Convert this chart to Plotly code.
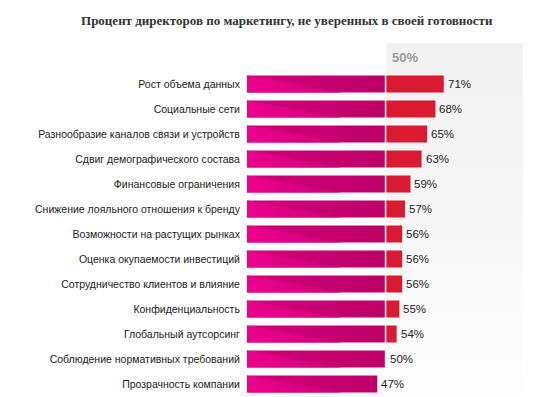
import plotly.graph_objects as go

title = "Процент директоров по маркетингу, не уверенных в своей готовности"
categories = [
    "Рост объема данных",
    "Социальные сети",
    "Разнообразие каналов связи и устройств",
    "Сдвиг демографического состава",
    "Финансовые ограничения",
    "Снижение лояльного отношения к бренду",
    "Возможности на растущих рынках",
    "Оценка окупаемости инвестиций",
    "Сотрудничество клиентов и влияние",
    "Конфиденциальность",
    "Глобальный аутсорсинг",
    "Соблюдение нормативных требований",
    "Прозрачность компании",
]
values = [71, 68, 65, 63, 59, 57, 56, 56, 56, 55, 54, 50, 47]
threshold = 50
threshold_label = "50%"

BAR_H = 0.34          # half bar height in row units
TRI_END = 34          # where the diagonal highlight reaches the bar bottom
X_MAX = 99.6
Y_TOP, Y_BOT = -1.64, 12.52

idx = list(range(len(categories)))

fig = go.Figure()

# light panel right of the threshold
fig.add_trace(go.Scatter(
    x=[threshold, X_MAX, X_MAX, threshold, threshold],
    y=[Y_TOP, Y_TOP, Y_BOT, Y_BOT, Y_TOP],
    mode="lines", line=dict(width=0), fill="toself",
    fillgradient=dict(type="vertical", start=Y_TOP, stop=Y_BOT,
                      colorscale=[[0, "#f2f2f2"], [0.6, "#f8f8f8"], [1, "#fefefe"]]),
    hoverinfo="skip", showlegend=False,
))

# magenta part of each bar (up to threshold), red part above it
rx, ry, tx, ty, qx, qy = [], [], [], [], [], []
for i, v in zip(idx, values):
    m = min(v, threshold)
    rx += [0, m, m, 0, 0, None]
    ry += [i - BAR_H, i - BAR_H, i + BAR_H, i + BAR_H, i - BAR_H, None]
    tx += [0, 0, TRI_END, 0, None]
    ty += [i - BAR_H, i + BAR_H, i + BAR_H, i - BAR_H, None]
    if v > threshold:
        qx += [threshold, v, v, threshold, threshold, None]
        qy += [i - BAR_H, i - BAR_H, i + BAR_H, i + BAR_H, i - BAR_H, None]

fig.add_trace(go.Scatter(
    x=rx, y=ry, mode="lines", line=dict(width=0), fill="toself",
    fillgradient=dict(type="horizontal", start=0, stop=threshold,
                      colorscale=[[0, "#d2007b"], [1, "#bc0067"]]),
    hoverinfo="skip", showlegend=False,
))
fig.add_trace(go.Scatter(
    x=tx, y=ty, mode="lines", line=dict(width=0), fill="toself",
    fillgradient=dict(type="horizontal", start=0, stop=TRI_END,
                      colorscale=[[0, "#ec008c"], [1, "#d0007a"]]),
    hoverinfo="skip", showlegend=False,
))
fig.add_trace(go.Scatter(
    x=qx, y=qy, mode="lines", line=dict(width=0), fill="toself",
    fillcolor="#da1a30",
    hoverinfo="skip", showlegend=False,
))

# value labels
for i, v in zip(idx, values):
    fig.add_annotation(x=v, y=i, xref="x", yref="y", text=f"{v}%", showarrow=False,
                       xanchor="left", yanchor="middle", xshift=2,
                       font=dict(family="Liberation Sans, Arial", size=11.5, color="#222222"))

fig.add_shape(type="line", x0=threshold, x1=threshold, y0=Y_TOP, y1=Y_BOT,
              xref="x", yref="y", line=dict(color="white", width=1.5), layer="above")

fig.add_annotation(x=threshold, y=-1.05, xref="x", yref="y", text=f"<b>{threshold_label}</b>",
                   showarrow=False, xanchor="left", xshift=4,
                   font=dict(family="Liberation Sans, Arial", size=13, color="#9a9a9a"))

fig.update_layout(
    width=538, height=397,
    margin=dict(l=247, r=15, t=43, b=0, pad=0),
    paper_bgcolor="white", plot_bgcolor="white",
    title=dict(text=title, x=0.533, xanchor="center", xref="container",
               y=1 - 20 / 397, yanchor="middle",
               font=dict(family="Liberation Serif, DejaVu Serif, serif", size=13,
                         color="#333333", weight="bold")),
    xaxis=dict(range=[0, X_MAX], showgrid=False, zeroline=False, showticklabels=False,
               showline=False, fixedrange=True),
    yaxis=dict(range=[Y_BOT, Y_TOP], tickmode="array", tickvals=idx, ticktext=categories,
               showgrid=False, zeroline=False, showline=False, fixedrange=True,
               ticks="outside", ticklen=4, tickcolor="rgba(0,0,0,0)",
               tickfont=dict(family="Liberation Sans, Arial", size=10.5, color="#222222")),
)

fig.write_html("out.html", config={"displayModeBar": False},
               post_script="document.body.style.margin='0';document.body.style.overflow='hidden';")
